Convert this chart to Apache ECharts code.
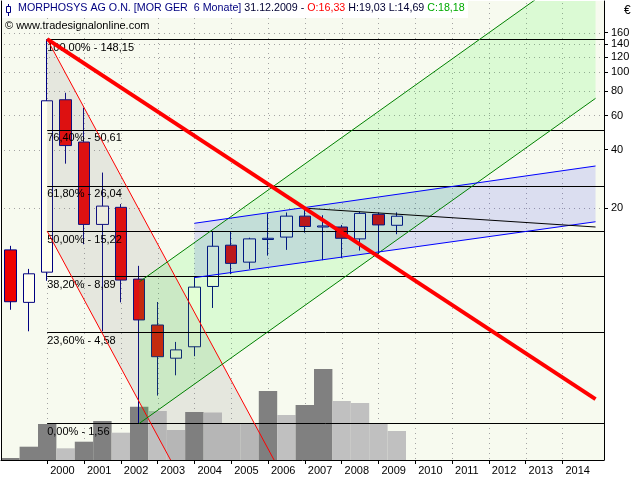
<!DOCTYPE html>
<html><head><meta charset="utf-8">
<script src="https://cdn.jsdelivr.net/npm/echarts@6/dist/echarts.min.js"></script>
<style>html,body{margin:0;padding:0;background:#fff}#c{width:640px;height:480px}</style>
</head><body><div id="c"></div>
<script>
const periods = [1999.0,1999.5,2000.0,2000.5,2001.0,2001.5,2002.0,2002.5,2003.0,2003.5,2004.0,2004.5,2005.0,2005.5,2006.0,2006.5,2007.0,2007.5,2008.0,2008.5,2009.0,2009.5];
const openP  = [12.2, 6.55, 9.37, 72.3, 43.8, 16.5, 20.2, 8.63, 5.01, 3.38, 3.87, 7.91, 12.9, 10.55, 13.8, 14.2, 18.2, 16.0, 16.0, 13.9, 18.6, 16.33];
const closeP = [6.6, 9.19, 71.4, 42.0, 16.5, 20.5, 8.53, 5.32, 3.44, 3.73, 7.85, 12.74, 10.4, 13.9, 14.0, 18.2, 16.1, 16.2, 14.0, 18.8, 16.4, 18.18];
const lowP   = [6.0, 4.65, 8.46, 33.9, 13.05, 4.65, 6.55, 1.56, 2.17, 2.76, 3.46, 6.13, 9.15, 9.74, 11.4, 12.2, 14.96, 10.8, 11.06, 12.1, 11.6, 14.69];
const highP  = [12.8, 9.74, 148.15, 78.5, 65.8, 30.5, 21.0, 10.1, 6.58, 4.10, 8.84, 15.26, 15.1, 14.1, 18.8, 19.0, 19.6, 18.4, 16.4, 19.2, 19.0, 19.03];
const volume = [2, 13.3, 36, 11.7, 18.3, 39, 27.3, 53.3, 49, 30, 48, 47.5, 37, 36.5, 69, 45, 55, 91, 59, 57, 36, 29];
const yTicks = [20, 40, 60, 80, 100, 120, 140, 160];
const xTicks = [2000,2001,2002,2003,2004,2005,2006,2007,2008,2009,2010,2011,2012,2013,2014];
const fibPct = ['100,00%','76,40%','61,80%','50,00%','38,20%','23,60%','0,00%'];
const fibVal = [148.15, 50.61, 26.04, 15.22, 8.89, 4.58, 1.56];
const fibStart = 2000;
const redTrend     = [[2000, 148.15], [2014.9, 2.08]];
const redChanUpper = [[2000, 148.15], [2007, 0.515]];
const redChanLower = [[2000, 15.22], [2007, 0.053]];
const greenUpper   = [[2002.5, 8.34], [2014.9, 393.7]];
const greenLower   = [[2002.5, 1.56], [2014.9, 73.5]];
const blueUpper    = [[2004, 16.72], [2014.9, 32.97]];
const blueLower    = [[2004, 8.78], [2014.9, 17.03]];
const blackLine    = [[2007, 20.0], [2014.9, 16.0]];

const L = Math.log10;
const X_MIN = 1998.745, X_MAX = 2015.13;
const Y_MIN = 0.005, Y_MAX = 2.3673;
const FONT = 'Liberation Sans';
const fmt = v => v.toFixed(2).replace('.', ',');

const fills = [
  {upper: redChanUpper, lower: redChanLower, color: 'rgba(120,120,120,0.14)'},
  {upper: greenUpper, lower: greenLower, color: 'rgba(0,255,0,0.11)'},
  {upper: blueUpper, lower: blueLower, color: 'rgba(0,0,255,0.11)'}
];
const lineSeries = (arr, color, width, z) => ({
  type: 'line', data: arr.map(p => [p[0], L(p[1])]), symbol: 'none', silent: true,
  lineStyle: {color: color, width: width}, z: z, clip: true, animation: false
});
const DOT_COLOR = '#A4A4A4', DOT_STEP = 5;

const last = periods.length - 1;
const chart = echarts.init(document.getElementById('c'), null, {renderer: 'canvas'});
chart.setOption({
  animation: false,
  backgroundColor: '#ffffff',
  grid: {left: 1, right: 36, top: 1, bottom: 20, show: true, backgroundColor: '#F7FAEF', borderWidth: 0},
  xAxis: {
    type: 'value', min: X_MIN, max: X_MAX, z: 10,
    axisLine: {show: true, onZero: false, lineStyle: {color: '#000', width: 1}},
    axisTick: {show: true, customValues: xTicks, length: 4, lineStyle: {color: '#000'}},
    axisLabel: {customValues: xTicks, formatter: v => String(Math.round(v)), align: 'left', padding: [0,0,0,3],
      margin: 5, color: '#000', fontFamily: FONT, fontSize: 11},
    splitLine: {show: false}
  },
  yAxis: [{
    type: 'value', position: 'right', min: Y_MIN, max: Y_MAX, z: 10,
    axisLine: {show: true, onZero: false, lineStyle: {color: '#000', width: 1}},
    axisTick: {show: true, customValues: yTicks.map(L), length: 4, lineStyle: {color: '#000'}},
    axisLabel: {customValues: yTicks.map(L), formatter: v => String(Math.round(Math.pow(10, v))),
      margin: 7, color: '#000', fontFamily: FONT, fontSize: 11},
    splitLine: {show: false}
  }, {
    type: 'value', position: 'left', min: 0, max: 459, z: 10,
    axisLine: {show: true, onZero: false, lineStyle: {color: '#000', width: 1}},
    axisTick: {show: false}, axisLabel: {show: false}, splitLine: {show: false}
  }],
  series: [
    { // dotted grid lines: one item per tick, positioned through the axes' own scales
      type: 'custom', z: 1, silent: true, clip: false,
      data: xTicks.map((t, i) => i).concat(yTicks.map((v, i) => 100 + i)),
      renderItem: function (params, api) {
        const i = params.dataIndex;
        const dots = [];
        if (i < xTicks.length) {
          const a = api.coord([xTicks[i], Y_MIN]), b = api.coord([xTicks[i], Y_MAX]);
          const x = Math.round(a[0]);
          for (let y = Math.ceil(b[1]) + 2; y < a[1]; y += DOT_STEP) {
            dots.push({type: 'rect', shape: {x: x, y: y, width: 1, height: 1}, style: {fill: DOT_COLOR}});
          }
        } else {
          const v = yTicks[i - xTicks.length];
          const a = api.coord([X_MIN, L(v)]), b = api.coord([X_MAX, L(v)]);
          const y = Math.round(a[1]);
          for (let x = Math.ceil(a[0]) + 3; x < b[0]; x += DOT_STEP) {
            dots.push({type: 'rect', shape: {x: x, y: y, width: 1, height: 1}, style: {fill: DOT_COLOR}});
          }
        }
        return {type: 'group', children: dots};
      }
    },
    {
      type: 'bar', yAxisIndex: 1, barWidth: 18.4, z: 2, silent: true,
      data: periods.map((t, i) => ({value: [t, volume[i]],
        itemStyle: {color: (i === 0 || volume[i] >= volume[i - 1]) ? '#808080' : '#C0C0C0'}}))
    },
    {
      type: 'candlestick', z: 3, barWidth: 12, silent: true,
      encode: {x: 0, y: [1, 2, 3, 4]},
      data: periods.map((t, i) => [t, L(openP[i]), L(closeP[i]), L(lowP[i]), L(highP[i])]),
      itemStyle: {color: '#FFFFF0', color0: '#EE0000', borderColor: '#000080', borderColor0: '#000080', borderWidth: 1}
    },
    {
      type: 'custom', z: 4, clip: true, silent: true,
      data: fills.map((f, i) => i),
      renderItem: function (params, api) {
        const f = fills[params.dataIndex];
        const pts = f.upper.concat(f.lower.slice().reverse()).map(p => api.coord([p[0], L(p[1])]));
        return {type: 'polygon', shape: {points: pts}, style: {fill: f.color}};
      }
    },
    {
      type: 'line', data: [[X_MIN - 5, 1]], symbol: 'none', z: 5, silent: true, clip: true,
      markLine: {silent: true, symbol: 'none', animation: false,
        lineStyle: {color: '#000', type: 'solid', width: 1},
        label: {show: true, position: 'insideStartBottom', color: '#000', fontFamily: FONT, fontSize: 11, distance: [0, 3]},
        data: fibVal.map((v, i) => [
          {coord: [fibStart, L(v)], label: {formatter: fibPct[i] + ' - ' + fmt(v)}},
          {coord: [X_MAX, L(v)]}
        ])}
    },
    lineSeries(redChanUpper, '#FF0000', 1, 6),
    lineSeries(redChanLower, '#FF0000', 1, 6),
    lineSeries(greenUpper, '#008000', 1, 6),
    lineSeries(greenLower, '#008000', 1, 6),
    lineSeries(blueUpper, '#0000FF', 1, 6),
    lineSeries(blueLower, '#0000FF', 1, 6),
    lineSeries(blackLine, '#000000', 1, 6),
    lineSeries(redTrend, '#FF0000', 4, 7)
  ],
  graphic: [
    {type: 'rect', z: 100, shape: {x: 2, y: 0, width: 466, height: 18}, style: {fill: '#ffffff'}},
    {type: 'line', z: 101, shape: {x1: 8.5, y1: 4, x2: 8.5, y2: 16}, style: {stroke: '#000080', lineWidth: 1}},
    {type: 'rect', z: 101, shape: {x: 6.5, y: 6.5, width: 4, height: 6}, style: {stroke: '#000080', fill: '#ffffff', lineWidth: 1}},
    {type: 'text', z: 101, left: 18, top: 3, style: {
      text: '{a|MORPHOSYS AG O.N. [MOR GER  6 Monate]} {b|' + '31.12.2009 -} {o|O:' + fmt(openP[last]) + '} {b|H:' + fmt(highP[last]) + ' L:' + fmt(lowP[last]) + '} {c|C:' + fmt(closeP[last]) + '}',
      font: '10.7px ' + FONT,
      rich: {
        a: {fill: '#000080', font: '10.7px ' + FONT},
        b: {fill: '#000033', font: '10.7px ' + FONT},
        o: {fill: '#FF0000', font: '10.7px ' + FONT},
        c: {fill: '#00AA00', font: '10.7px ' + FONT}
      }}},
    {type: 'text', z: 101, left: 5, top: 20, style: {text: '\u00A9 www.tradesignalonline.com', fill: '#000', font: '11px ' + FONT}},
    {type: 'text', z: 101, left: 624, top: 5, style: {text: '\u20AC', fill: '#000', font: '12px ' + FONT}}
  ]
});
</script></body></html>
